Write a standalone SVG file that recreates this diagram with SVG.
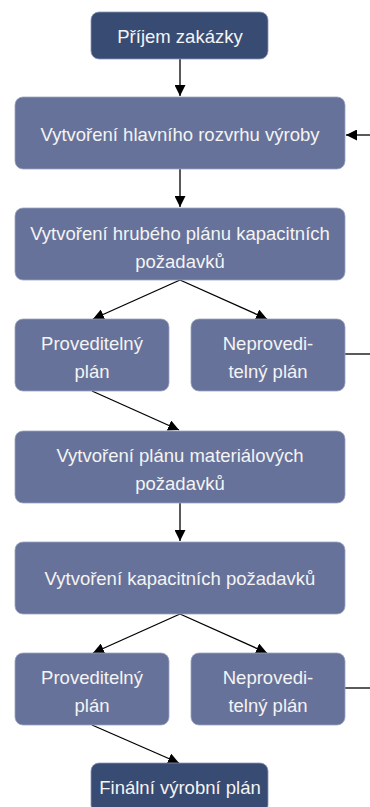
<svg xmlns="http://www.w3.org/2000/svg" width="370" height="807" viewBox="0 0 370 807">
<defs>
<style>
.dark{fill:#384b73;stroke:#8a97b3;stroke-width:0.8}
.mid{fill:#66729a;stroke:#9aa3c0;stroke-width:0.8}
text{font-family:"Liberation Sans","DejaVu Sans",sans-serif;font-size:18.5px;fill:#f4f4f4;text-anchor:middle}
.c{stroke:#000;stroke-width:1.3;fill:none}
</style>
<marker id="ah" viewBox="0 0 10 10" refX="10" refY="5" markerWidth="11" markerHeight="11" markerUnits="userSpaceOnUse" orient="auto"><path d="M0,0L10,5L0,10Z" fill="#000"/></marker>
</defs>
<rect width="370" height="807" fill="#fff"/>
<g id="connectors">
<line class="c" x1="180" y1="59" x2="180" y2="96" marker-end="url(#ah)"/>
<line class="c" x1="180" y1="169" x2="180" y2="207" marker-end="url(#ah)"/>
<line class="c" x1="370" y1="135" x2="346" y2="135" marker-end="url(#ah)"/>
<line class="c" x1="180" y1="280" x2="93" y2="319" marker-end="url(#ah)"/>
<line class="c" x1="180" y1="280" x2="267" y2="319" marker-end="url(#ah)"/>
<line class="c" x1="345" y1="354" x2="370" y2="354"/>
<line class="c" x1="92" y1="391" x2="179" y2="430" marker-end="url(#ah)"/>
<line class="c" x1="180" y1="503" x2="180" y2="541" marker-end="url(#ah)"/>
<line class="c" x1="180" y1="614" x2="93" y2="653" marker-end="url(#ah)"/>
<line class="c" x1="180" y1="614" x2="267" y2="653" marker-end="url(#ah)"/>
<line class="c" x1="345" y1="688" x2="370" y2="688"/>
<line class="c" x1="92" y1="725" x2="179" y2="763" marker-end="url(#ah)"/>
</g>
<g id="n1"><rect class="dark" x="91" y="12" width="177" height="47" rx="8"/><text x="180" y="43">Příjem zakázky</text></g>
<g id="n2"><rect class="mid" x="15" y="97" width="330" height="72" rx="8"/><text x="180" y="141">Vytvoření hlavního rozvrhu výroby</text></g>
<g id="n3"><rect class="mid" x="15" y="208" width="330" height="72" rx="8"/><text x="180" y="240">Vytvoření hrubého plánu kapacitních</text><text x="180" y="268">požadavků</text></g>
<g id="n4"><rect class="mid" x="15" y="319" width="154" height="72" rx="8"/><text x="92" y="350">Proveditelný</text><text x="92" y="378">plán</text></g>
<g id="n5"><rect class="mid" x="191" y="319" width="154" height="72" rx="8"/><text x="268" y="350">Neprovedi-</text><text x="268" y="378">telný plán</text></g>
<g id="n6"><rect class="mid" x="15" y="431" width="330" height="72" rx="8"/><text x="180" y="462">Vytvoření plánu materiálových</text><text x="180" y="490">požadavků</text></g>
<g id="n7"><rect class="mid" x="15" y="542" width="330" height="72" rx="8"/><text x="180" y="585">Vytvoření kapacitních požadavků</text></g>
<g id="n8"><rect class="mid" x="15" y="653" width="154" height="72" rx="8"/><text x="92" y="684">Proveditelný</text><text x="92" y="712">plán</text></g>
<g id="n9"><rect class="mid" x="191" y="653" width="154" height="72" rx="8"/><text x="268" y="684">Neprovedi-</text><text x="268" y="712">telný plán</text></g>
<g id="n10"><rect class="dark" x="91" y="763" width="177" height="50" rx="8"/><text x="180" y="794">Finální výrobní plán</text></g>
</svg>
